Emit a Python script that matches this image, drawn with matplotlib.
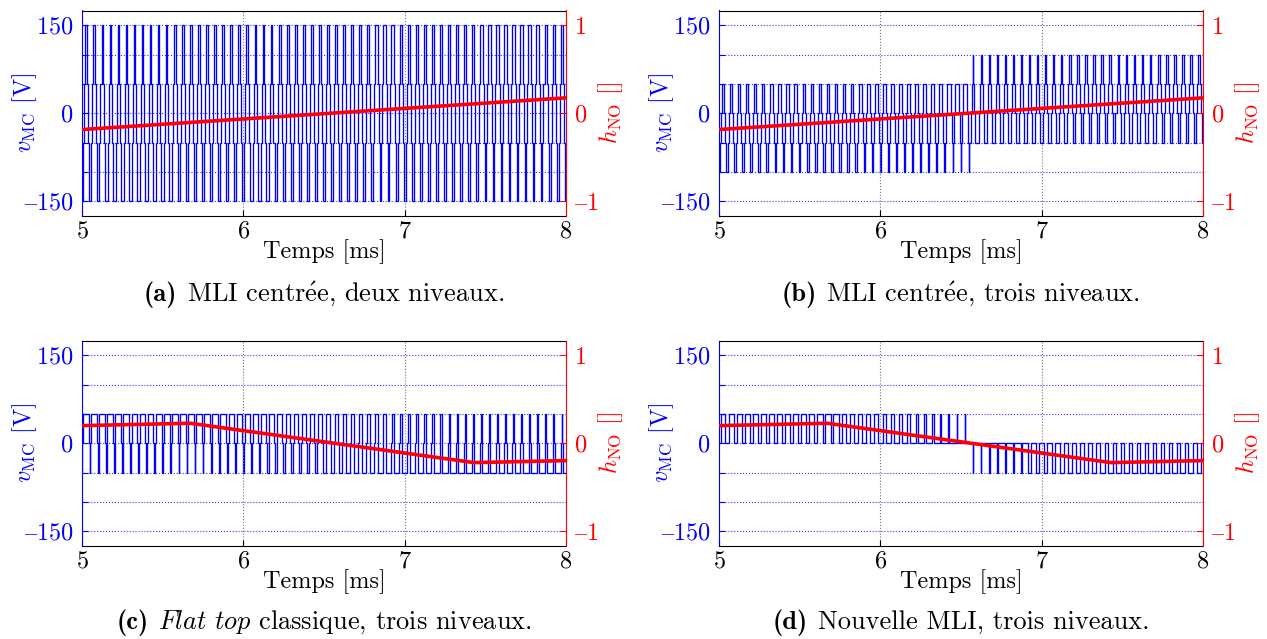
import numpy as np
import matplotlib
matplotlib.use("Agg")
import matplotlib.pyplot as plt

plt.rcParams['mathtext.fontset'] = 'cm'
plt.rcParams['font.family'] = ['cmr10', 'DejaVu Serif']
plt.rcParams['axes.unicode_minus'] = False

# ---------------- data ----------------
F_SW_KHZ = 20.0                 # switching frequency (60 periods in 3 ms)
T_START, T_END = 5.0, 8.0
x_ticks = [5, 6, 7, 8]
v_ticks = [-150, -100, -50, 0, 50, 100, 150]
v_labels_shown = [-150, 0, 150]
h_ticks = [-1, 0, 1]

# zero-sequence (red) curves
h_t_ab = [5.0, 8.0]
h_ab = [-0.185, 0.175]
h_t_cd = [5.0, 5.67, 7.43, 8.0]
h_cd = [0.20, 0.227, -0.22, -0.197]

# common-mode voltage levels used by each modulation
levels_a = [-150, -50, 50, 150]
levels_b_low = [-100, -50, 0, 50]
levels_b_high = [-50, 0, 50, 100]
levels_c = [-50, 0, 50]
levels_d_pos = [0, 50]
levels_d_neg = [0, -50]
MID_DUTY = 0.25                 # time share of each middle level (a, b)
FT_MID_DUTY = 0.2               # time share of the 0 level in flat top

cap_labels = ["(a)", "(b)", "(c)", "(d)"]
cap_texts = [r"MLI centr$\mathrm{\acute{e}}$e, deux niveaux.",
             r"MLI centr$\mathrm{\acute{e}}$e, trois niveaux.",
             r"$\mathit{Flat\ top}$ classique, trois niveaux.",
             r"Nouvelle MLI, trois niveaux."]

BLUE = (0, 0, 1)
RED = (1, 0, 0)
FS = 17.5
FS_CAP = 19


def seq_a(h):
    rest = 1 - 2 * MID_DUTY
    return levels_a, [rest / 2 - h / 2, MID_DUTY, MID_DUTY, rest / 2 + h / 2]


def seq_b(h):
    if h < 0:
        d0 = 1 / 12 - h
        lv = levels_b_low
    else:
        d0 = 5 / 12 - h
        lv = levels_b_high
    rest = 1 - 2 * MID_DUTY
    d0 = min(max(d0, 0.0), rest)
    return lv, [d0, MID_DUTY, MID_DUTY, rest - d0]


def seq_c(h):
    rest = 1 - FT_MID_DUTY
    d2 = min(max(rest / 2 + 1.5 * h, 0.0), rest)
    return levels_c, [rest - d2, FT_MID_DUTY, d2]


def seq_d(h):
    d = min(3 * abs(h), 1.0)
    lv = levels_d_pos if h >= 0 else levels_d_neg
    return lv, [1 - d, d]


def build_wave(seqfun, h_t, h_v):
    T = 1.0 / F_SW_KHZ
    n = int(round((T_END - T_START) / T))
    edges = [T_START]
    vals = []
    for k in range(n):
        t0 = T_START + k * T
        h = float(np.interp(t0 + T / 2, h_t, h_v))
        lv, du = seqfun(h)
        half = [(l, d / 2) for l, d in zip(lv, du) if d > 1e-9]
        full = half[:-1] + [(half[-1][0], half[-1][1] * 2)] + half[:-1][::-1]
        t = t0
        for l, d in full:
            t += d * T
            if vals and vals[-1] == l:
                edges[-1] = t
            else:
                vals.append(l)
                edges.append(t)
    return np.array(edges), np.array(vals)


def tick_txt(v):
    return f"$\u2013{abs(v)}$" if v < 0 else f"${v}$"


W, H = 1267, 639
fig = plt.figure(figsize=(W / 100, H / 100), dpi=100)

panels = [
    (82, 10.5, seq_a, h_t_ab, h_ab),
    (719, 10.5, seq_b, h_t_ab, h_ab),
    (82, 340.5, seq_c, h_t_cd, h_cd),
    (719, 340.5, seq_d, h_t_cd, h_cd),
]
AW, AH = 484, 205.5

for i, (px, py, sf, ht, hv) in enumerate(panels):
    ax = fig.add_axes([px / W, 1 - (py + AH) / H, AW / W, AH / H])
    edges, vals = build_wave(sf, ht, hv)
    ax.stairs(vals, edges, baseline=None, color=BLUE, lw=0.95)
    ax.set_xlim(T_START, T_END)
    ax.set_ylim(-175, 175)
    ax.set_xticks(x_ticks)
    ax.set_xticklabels([f"${v}$" for v in x_ticks], fontsize=FS)
    ax.set_yticks(v_ticks)
    ax.set_yticklabels([(tick_txt(v) if v in v_labels_shown else "") for v in v_ticks],
                       fontsize=FS, color=BLUE)
    ax.tick_params(axis='both', direction='in', length=4, width=0.8)
    ax.tick_params(axis='y', colors=BLUE, pad=6)
    ax.tick_params(axis='x', pad=3)
    ax.grid(axis='y', color=BLUE, ls=':', lw=0.8, alpha=0.8)
    ax.grid(axis='x', color='0.45', ls=':', lw=0.8)
    ax.spines['left'].set_color(BLUE)
    ax.spines['right'].set_visible(False)
    ax.set_ylabel(r"$v_{\mathrm{MC}}$ [V]", color=BLUE, fontsize=FS)
    ax.yaxis.set_label_coords(-0.088, 0.5)
    ax.set_xlabel("Temps [ms]", fontsize=FS)
    ax.xaxis.set_label_coords(0.5, -0.115)

    ax2 = ax.twinx()
    ax2.plot(ht, hv, color=RED, lw=2.6)
    ax2.set_ylim(-7 / 6, 7 / 6)
    ax2.set_yticks(h_ticks)
    ax2.set_yticklabels([tick_txt(v) for v in h_ticks], fontsize=FS, color=RED)
    ax2.tick_params(axis='y', colors=RED, direction='in', length=4, width=0.8, pad=6)
    for s in ('left', 'top', 'bottom'):
        ax2.spines[s].set_visible(False)
    ax2.spines['right'].set_color(RED)
    ax2.set_ylabel(r"$h_{\mathrm{NO}}$ []", color=RED, fontsize=FS)
    ax2.yaxis.set_label_coords(1.062, 0.5)

# captions: bold label + regular text, centred under each panel
renderer = fig.canvas.get_renderer()
for i, (px, py, sf, ht, hv) in enumerate(panels):
    base_y = 301 if i < 2 else 629
    t1 = fig.text(0, 1 - base_y / H, cap_labels[i], family='cmb10', fontsize=FS_CAP,
                  ha='left', va='baseline')
    t2 = fig.text(0, 1 - base_y / H, cap_texts[i], fontsize=FS_CAP,
                  ha='left', va='baseline')
    w1 = t1.get_window_extent(renderer).width
    w2 = t2.get_window_extent(renderer).width
    gap = FS_CAP * 0.36 * 100 / 72
    x0 = px + AW / 2 - (w1 + gap + w2) / 2
    t1.set_x(x0 / W)
    t2.set_x((x0 + w1 + gap) / W)

fig.savefig("out.png", dpi=100)
